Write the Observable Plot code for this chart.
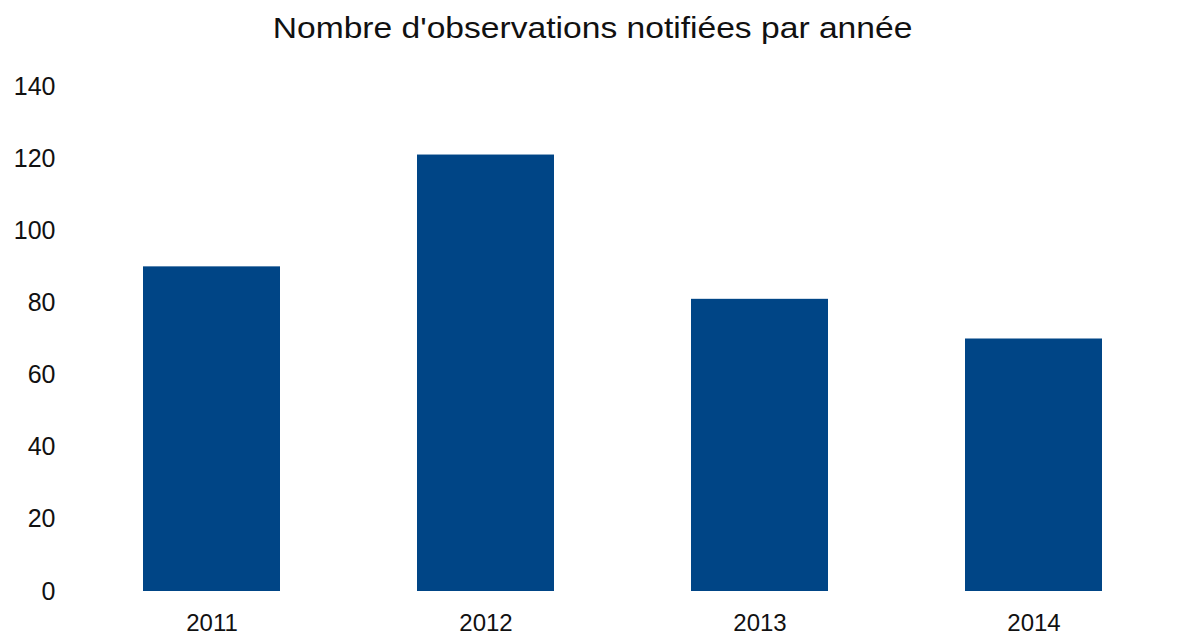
<!DOCTYPE html>
<html>
<head>
<meta charset="utf-8">
<script src="https://cdn.jsdelivr.net/npm/d3@7"></script>
<script src="https://cdn.jsdelivr.net/npm/@observablehq/plot@0.6"></script>
<style>
  html, body { margin: 0; padding: 0; background: #fff; }
  body { width: 1185px; height: 637px; overflow: hidden; font-family: "Liberation Sans", Arial, sans-serif; }
  #title { height: 55px; line-height: 56px; text-align: center; font-size: 30px; color: #111; }
  #title span { display: inline-block; transform: scaleX(1.12); transform-origin: center; }
</style>
</head>
<body>
<div id="title"><span>Nombre d'observations notifiées par année</span></div>
<div id="chart"></div>
<script>
const years = ["2011", "2012", "2013", "2014"];
const counts = [90, 121, 81, 70];
const yTicks = [0, 20, 40, 60, 80, 100, 120, 140];

const data = years.map((y, i) => ({year: y, count: counts[i]}));

const chart = Plot.plot({
  width: 1185,
  height: 582,
  marginTop: 31,
  marginBottom: 46,
  marginLeft: 73,
  marginRight: 13,
  style: {fontFamily: "Liberation Sans, Arial, sans-serif", fontSize: "25px", color: "#111", background: "#fff"},
  x: {domain: years, paddingInner: 0.5, paddingOuter: 0.25, label: null},
  y: {domain: [0, 140], label: null},
  marks: [
    Plot.barY(data, {x: "year", y: "count", fill: "#004586"}),
    Plot.axisX({tickSize: 0, tickPadding: 22, fontSize: 24}),
    Plot.axisY({ticks: yTicks, tickSize: 0, tickPadding: 18, fontSize: 25})
  ]
});
document.getElementById("chart").appendChild(chart);
</script>
</body>
</html>
